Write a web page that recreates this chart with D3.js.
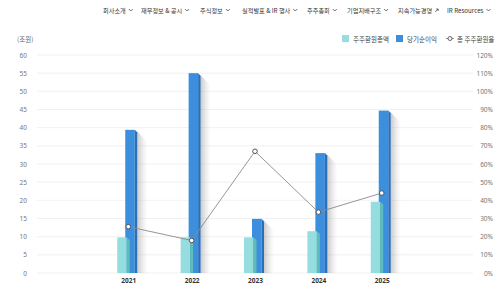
<!DOCTYPE html>
<html>
<head>
<meta charset="utf-8">
<script src="https://cdn.jsdelivr.net/npm/d3@7"></script>
<style>
  body { margin: 0; background: #fff; }
  svg { display: block; font-family: "Noto Sans CJK KR", "Noto Sans", sans-serif; }
</style>
</head>
<body>
<div id="chart"></div>
<script>
    // Data
    const years = ["2021", "2022", "2023", "2024", "2025"];
    const returnTotal = [9.8, 9.8, 9.8, 11.5, 19.6];     // 주주환원총액 (조원)
    const netIncome = [39.4, 55.0, 14.9, 33.0, 44.7];      // 당기순이익 (조원)
    const returnRatio = [25.5, 17.9, 67.0, 33.5, 44.0];    // 총 주주환원율 (%)
    const leftTicks = d3.range(0, 65, 5);
    const rightTicks = d3.range(0, 130, 10);
    const navItems = ["회사소개", "재무정보 & 공시", "주식정보", "실적발표 & IR 행사", "주주총회", "기업지배구조", "지속가능경영", "IR Resources"];
    const navX = [103, 141, 200, 242, 307, 347, 398, 447];

    const width = 500, height = 290;
    const plot = { left: 37, right: 473, top: 55, bottom: 273 };

    const svg = d3.select("#chart")
        .append("svg")
        .attr("width", width)
        .attr("height", height);

    const defs = svg.append("defs");
    const grad = defs.append("linearGradient").attr("id", "shadow")
        .attr("x1", "0").attr("x2", "1").attr("y1", "0").attr("y2", "0");
    grad.append("stop").attr("offset", "0").attr("stop-color", "#8a8a8a").attr("stop-opacity", 0.45);
    grad.append("stop").attr("offset", "1").attr("stop-color", "#bbbbbb").attr("stop-opacity", 0);

    // Scales
    const x = d3.scalePoint().domain(years).range([plot.left, plot.right]).padding(1.44);
    const yL = d3.scaleLinear().domain([0, 60]).range([plot.bottom, plot.top]);
    const yR = d3.scaleLinear().domain([0, 120]).range([plot.bottom, plot.top]);

    // Top navigation
    const nav = svg.append("g").attr("font-size", 6.2).attr("fill", "#333");
    navItems.forEach((t, i) => {
        const txt = nav.append("text").attr("x", navX[i]).attr("y", 13).text(t);
        const w = txt.node().getComputedTextLength();
        if (t === "지속가능경영") {
            nav.append("path")
                .attr("d", `M${navX[i] + w + 3},${12} l3,-3 M${navX[i] + w + 4},${9} h2 v2`)
                .attr("stroke", "#333").attr("stroke-width", 0.7).attr("fill", "none");
        } else {
            nav.append("path")
                .attr("d", `M${navX[i] + w + 3},${9} l2,2 l2,-2`)
                .attr("stroke", "#333").attr("stroke-width", 0.7).attr("fill", "none");
        }
    });

    // Unit label
    svg.append("text").attr("x", 17).attr("y", 42)
        .attr("font-size", 6.5).attr("fill", "#666").text("(조원)");

    // Legend
    const legend = svg.append("g").attr("font-size", 6.5).attr("fill", "#444");
    legend.append("rect").attr("x", 342).attr("y", 35).attr("width", 7).attr("height", 7).attr("fill", "#96dde0");
    legend.append("text").attr("x", 353).attr("y", 41.5).text("주주환원총액");
    legend.append("rect").attr("x", 396).attr("y", 35).attr("width", 7).attr("height", 7).attr("fill", "#3b8fdc");
    legend.append("text").attr("x", 407).attr("y", 41.5).text("당기순이익");
    legend.append("line").attr("x1", 446).attr("x2", 454).attr("y1", 38.5).attr("y2", 38.5).attr("stroke", "#777").attr("stroke-width", 0.8);
    legend.append("circle").attr("cx", 450).attr("cy", 38.5).attr("r", 2).attr("fill", "#fff").attr("stroke", "#555").attr("stroke-width", 0.9);
    legend.append("text").attr("x", 457).attr("y", 41.5).text("총 주주환원율");

    // Grid lines
    svg.append("g")
        .selectAll("line")
        .data(leftTicks)
        .enter().append("line")
        .attr("x1", plot.left).attr("x2", plot.right)
        .attr("y1", d => yL(d)).attr("y2", d => yL(d))
        .attr("stroke", "#eeeeee").attr("stroke-width", 0.8);

    // Left axis
    svg.append("g")
        .attr("transform", `translate(27,0)`)
        .call(d3.axisLeft(yL).tickValues(leftTicks).tickSize(0).tickPadding(0))
        .call(g => g.select(".domain").remove())
        .selectAll("text")
        .attr("font-size", 6.5).attr("fill", "#777").attr("font-family", "Noto Sans, sans-serif");

    // Right axis
    svg.append("g")
        .attr("transform", `translate(493,0)`)
        .call(d3.axisLeft(yR).tickValues(rightTicks).tickSize(0).tickPadding(0).tickFormat(d => d + "%"))
        .call(g => g.select(".domain").remove())
        .selectAll("text")
        .attr("font-size", 6.5).attr("fill", "#777").attr("font-family", "Noto Sans, sans-serif");

    // Bottom axis labels
    svg.append("g")
        .attr("transform", `translate(0,${plot.bottom + 5})`)
        .call(d3.axisBottom(x).tickSize(0).tickPadding(0))
        .call(g => g.select(".domain").remove())
        .selectAll("text")
        .attr("font-size", 6.5).attr("font-weight", "bold").attr("fill", "#333")
        .attr("font-family", "Noto Sans, sans-serif");

    // 3D-ish bars
    const bars = svg.append("g");
    const base = yL(0);

    // Net income (blue) with shadow
    netIncome.forEach((v, i) => {
        const cx = x(years[i]);
        const top = yL(v);
        const x0 = cx - 3, x1 = cx + 6.5, x2 = cx + 9;
        bars.append("polygon")
            .attr("points", `${x2},${top + 2} ${x2 + 10},${top + 12} ${x2 + 10},${base} ${x2},${base}`)
            .attr("fill", "url(#shadow)");
        bars.append("rect")
            .attr("x", x0).attr("y", top)
            .attr("width", x1 - x0).attr("height", base - top)
            .attr("fill", "#3b8fdc");
        bars.append("polygon")
            .attr("points", `${x1},${top} ${x2},${top + 2.5} ${x2},${base} ${x1},${base}`)
            .attr("fill", "#2b6fb9");
    });

    // Shareholder return (light)
    returnTotal.forEach((v, i) => {
        const cx = x(years[i]);
        const top = yL(v);
        const x0 = cx - 11, x1 = cx - 1.5, x2 = cx + 1.5;
        bars.append("rect")
            .attr("x", x0).attr("y", top)
            .attr("width", x1 - x0).attr("height", base - top)
            .attr("fill", "#96dde0");
        bars.append("polygon")
            .attr("points", `${x1},${top} ${x2},${top + 2.5} ${x2},${base} ${x1},${base}`)
            .attr("fill", "#5fbdb9");
    });

    // Ratio line
    const line = d3.line()
        .x((d, i) => x(years[i]))
        .y(d => yR(d));

    svg.append("path")
        .datum(returnRatio)
        .attr("fill", "none")
        .attr("stroke", "#8a8a8a")
        .attr("stroke-width", 0.9)
        .attr("d", line);

    svg.selectAll(".pt")
        .data(returnRatio)
        .enter().append("circle")
        .attr("class", "pt")
        .attr("cx", (d, i) => x(years[i]))
        .attr("cy", d => yR(d))
        .attr("r", 2.3)
        .attr("fill", "#fff")
        .attr("stroke", "#555")
        .attr("stroke-width", 1);
</script>
</body>
</html>
